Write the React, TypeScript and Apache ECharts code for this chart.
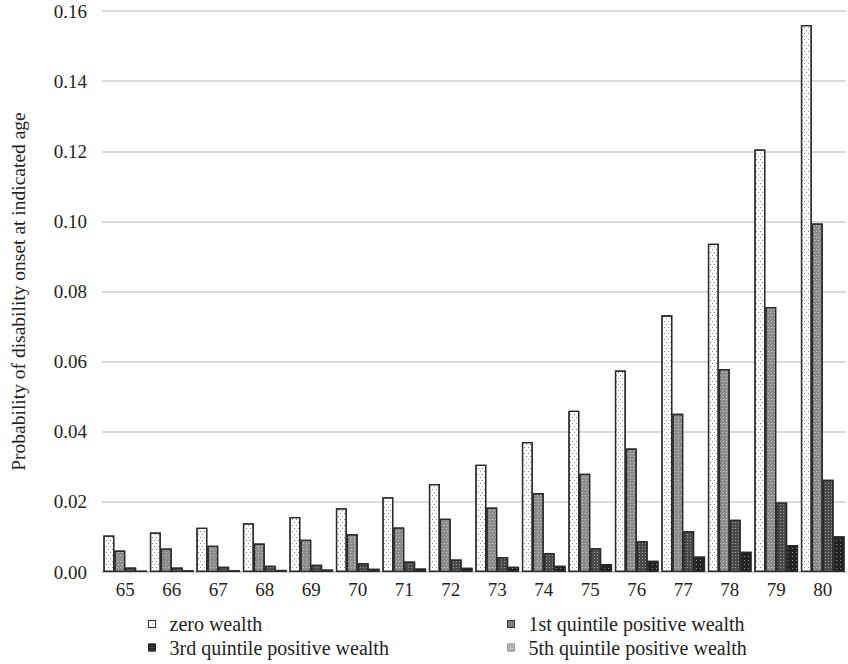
import React, { useEffect, useRef } from "react";
import * as echarts from "echarts";

const ages = ["65", "66", "67", "68", "69", "70", "71", "72", "73", "74", "75", "76", "77", "78", "79", "80"];
const zeroWealth = [0.0104, 0.0113, 0.0126, 0.0139, 0.0157, 0.0182, 0.0213, 0.0251, 0.0306, 0.0371, 0.046, 0.0575, 0.0732, 0.0936, 0.1205, 0.156];
const q1Wealth = [0.0061, 0.0067, 0.0075, 0.0081, 0.0092, 0.0108, 0.0127, 0.0152, 0.0184, 0.0225, 0.028, 0.0352, 0.0451, 0.0579, 0.0756, 0.0994];
const q3Wealth = [0.0013, 0.0013, 0.0015, 0.0018, 0.0021, 0.0025, 0.003, 0.0036, 0.0043, 0.0054, 0.0068, 0.0088, 0.0116, 0.0149, 0.0198, 0.0263];
const q5Wealth = [0.0004, 0.0005, 0.0005, 0.0006, 0.0007, 0.0009, 0.001, 0.0012, 0.0015, 0.0018, 0.0023, 0.0032, 0.0044, 0.0058, 0.0077, 0.0102];
const seriesNames = [
  "zero wealth",
  "1st quintile positive wealth",
  "3rd quintile positive wealth",
  "5th quintile positive wealth",
];

const FONT = "'Liberation Serif', 'DejaVu Serif', serif";
const TEXT = "#231f20";

export default function App() {
  const ref = useRef<HTMLDivElement>(null);
  useEffect(() => {
    document.body.style.margin = "0";
    const chart = echarts.init(ref.current!, null, { renderer: "svg" });
    const border = { borderColor: "#2a2a2a", borderWidth: 1.3 };
    const styles = [
      {
        color: "#ffffff",
        ...border,
        decal: { symbol: "rect", symbolSize: 1, color: "#8a8a8a", dashArrayX: [[1, 3], [0, 2, 1, 1]], dashArrayY: [1, 2] },
      },
      {
        color: "#8c8c8c",
        ...border,
        decal: { symbol: "rect", symbolSize: 1, color: "rgba(255,255,255,0.55)", dashArrayX: [[1, 2], [0, 1.5, 1, 0.5]], dashArrayY: [1, 1.5] },
      },
      {
        color: "#4a4a4a",
        ...border,
        decal: { symbol: "rect", symbolSize: 1, color: "rgba(255,255,255,0.45)", dashArrayX: [1, 2], dashArrayY: [1, 2] },
      },
      {
        color: "#222222",
        ...border,
        decal: { symbol: "rect", symbolSize: 1, color: "rgba(255,255,255,0.5)", dashArrayX: [1, 3], dashArrayY: [1, 3] },
      },
    ];
    const legendIconStyles = [
      { color: "#ffffff", borderColor: "#333", borderWidth: 1 },
      { color: "#777777", borderColor: "#333", borderWidth: 1 },
      { color: "#2a2a2a", borderColor: "#222", borderWidth: 1 },
      { color: "#b5b5b5", borderColor: "#999", borderWidth: 1 },
    ];
    const values = [zeroWealth, q1Wealth, q3Wealth, q5Wealth];
    const legendCommon = {
      orient: "vertical" as const,
      top: 614,
      padding: 0,
      itemWidth: 7,
      itemHeight: 7,
      itemGap: 3.5,
      icon: "rect",
      textStyle: { fontFamily: FONT, fontSize: 20, color: TEXT, lineHeight: 20, padding: [0, 0, 0, 9] },
    };
    chart.setOption({
      animation: false,
      backgroundColor: "#ffffff",
      grid: { left: 92, right: 2, top: 11, bottom: 92, containLabel: false },
      legend: [
        {
          ...legendCommon,
          left: 148,
          data: [
            { name: seriesNames[0], itemStyle: legendIconStyles[0] },
            { name: seriesNames[2], itemStyle: legendIconStyles[2] },
          ],
        },
        {
          ...legendCommon,
          left: 507,
          data: [
            { name: seriesNames[1], itemStyle: legendIconStyles[1] },
            { name: seriesNames[3], itemStyle: legendIconStyles[3] },
          ],
        },
      ],
      xAxis: {
        type: "category",
        data: ages,
        axisTick: { show: false },
        axisLine: { show: true, lineStyle: { color: "#c8c8c8", width: 1.5 } },
        axisLabel: { fontFamily: FONT, fontSize: 19, color: TEXT, margin: 8 },
      },
      yAxis: {
        type: "value",
        min: 0,
        max: 0.16,
        interval: 0.02,
        name: "Probability of disability onset at indicated age",
        nameLocation: "middle",
        nameGap: 74,
        nameTextStyle: { fontFamily: FONT, fontSize: 19.5, color: TEXT },
        axisLine: { show: false },
        axisTick: { show: false },
        axisLabel: {
          fontFamily: FONT,
          fontSize: 19,
          color: TEXT,
          margin: 15,
          formatter: (v: number) => v.toFixed(2),
        },
        splitLine: { lineStyle: { color: "#cfcfcf", width: 1.5 } },
      },
      series: seriesNames.map((name, i) => ({
        name,
        type: "bar",
        data: values[i],
        barGap: "0%",
        barCategoryGap: "6%",
        itemStyle: styles[i],
      })),
    });
    return () => chart.dispose();
  }, []);
  return <div ref={ref} style={{ width: 848, height: 664, position: "absolute", left: 0, top: 0 }} />;
}
